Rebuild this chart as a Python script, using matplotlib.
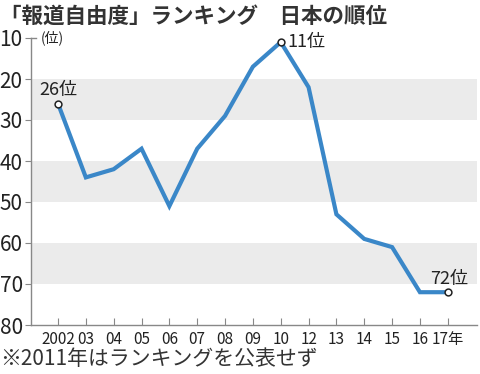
import matplotlib
matplotlib.use("Agg")
import matplotlib.pyplot as plt

# data
years = ["2002", "03", "04", "05", "06", "07", "08", "09", "10",
         "12", "13", "14", "15", "16", "17年"]
ranks = [26, 44, 42, 37, 51, 37, 29, 17, 11, 22, 53, 59, 61, 72, 72]
labelled = [0, 8, 14]   # points with a "位" label
yticks = [10, 20, 30, 40, 50, 60, 70, 80]

plt.rcParams['font.family'] = ['Noto Sans CJK JP', 'DejaVu Sans']

fig = plt.figure(figsize=(4.8, 3.74), dpi=100)
ax = fig.add_axes([31 / 480, 1 - 325 / 374, 446 / 480, 287 / 374])

x = list(range(len(years)))

# grey bands
for lo in (20, 40, 60):
    ax.axhspan(lo, lo + 10, color="#ebebeb", lw=0, zorder=0)

ax.plot(x, ranks, color="#3a87c8", lw=3.0, solid_joinstyle="miter", zorder=2)
ax.scatter([x[i] for i in labelled], [ranks[i] for i in labelled], s=24,
           facecolor="white", edgecolor="#222222", lw=1.1, zorder=3)

ax.set_xlim(-0.97, 15.05)
ax.set_ylim(80, 10)
ax.set_yticks(yticks)
ax.set_xticks(x)
ax.set_xticklabels(years, fontsize=11, color="#222222")
ax.set_yticklabels([str(v) for v in yticks], fontsize=15, color="#222222")

for s in ("top", "right"):
    ax.spines[s].set_visible(False)
for s in ("left", "bottom"):
    ax.spines[s].set_color("#888888")
    ax.spines[s].set_linewidth(1.0)
ax.tick_params(axis="y", direction="out", length=4, color="#888888", pad=2)
ax.tick_params(axis="x", direction="in", length=5, color="#888888", pad=4)

# small corner at top of y axis
ax.plot([-0.97, -0.8], [10, 10], color="#888888", lw=1.0, clip_on=False)

fig.text(0.0, 1 - 16 / 374, "「報道自由度」ランキング　日本の順位", fontsize=15.5,
         fontweight="bold", color="#333333", va="center", ha="left")
ax.text(-0.62, 10, "(位)", fontsize=10, color="#222222", va="center")

ax.text(0, 24.8, f"{ranks[0]}位", fontsize=13, color="#222222",
        ha="center", va="bottom")
ax.text(8.25, 11, f"{ranks[8]}位", fontsize=13, color="#222222",
        ha="left", va="center")
ax.text(14.05, 71, f"{ranks[14]}位", fontsize=13, color="#222222",
        ha="center", va="bottom")

fig.text(0.0, 1 - 359 / 374, "※2011年はランキングを公表せず", fontsize=15,
         color="#333333", va="center", ha="left")

fig.savefig("out.png", dpi=100)
